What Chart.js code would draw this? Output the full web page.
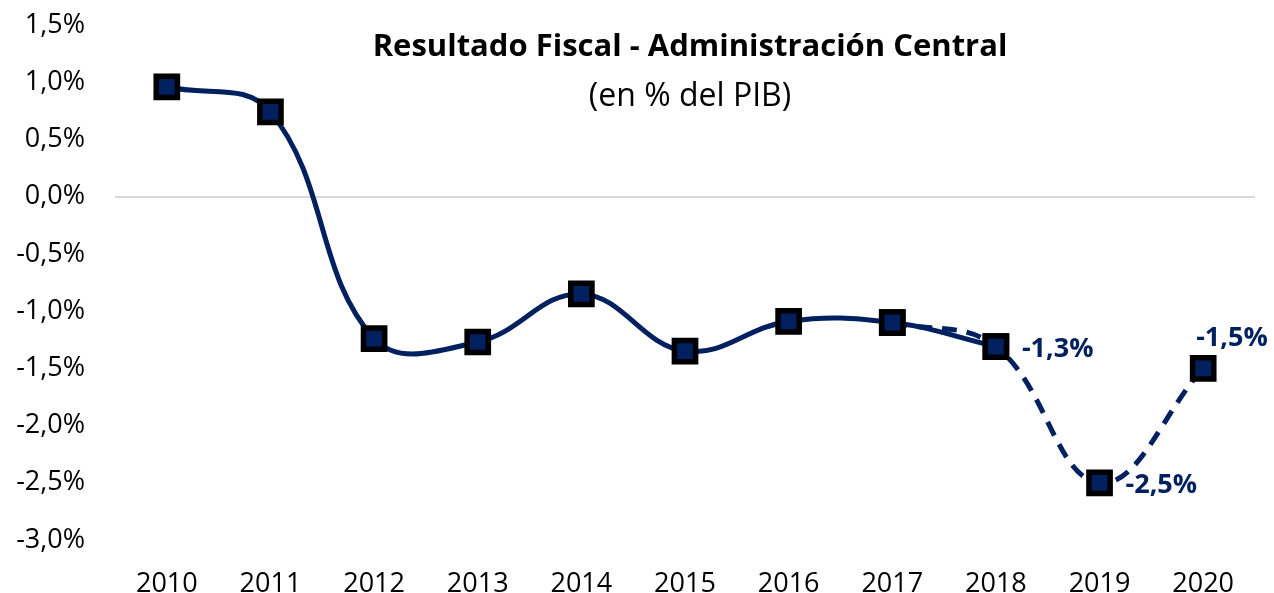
<!DOCTYPE html>
<html>
<head>
<meta charset="utf-8">
<script src="https://cdn.jsdelivr.net/npm/chart.js@4.4.1/dist/chart.umd.min.js"></script>
<style>
  html, body { margin: 0; padding: 0; background: #fff; }
  #wrap { width: 1274px; height: 593px; }
</style>
</head>
<body>
<div id="wrap"><canvas id="myChart"></canvas></div>
<script>
// datos (% del PIB)
const years = ['2010','2011','2012','2013','2014','2015','2016','2017','2018','2019','2020'];
const resultado = [0.96, 0.74, -1.24, -1.27, -0.85, -1.35, -1.09, -1.10, -1.31, null, null];
const proyeccion = [null, null, null, null, null, null, null, -1.10, -1.31, -2.50, -1.50];
const etiquetas = [null, null, null, null, null, null, null, null, '-1,3%', '-2,5%', '-1,5%'];
const yTicks = [1.5, 1.0, 0.5, 0.0, -0.5, -1.0, -1.5, -2.0, -2.5, -3.0];

const azul = '#002060';
const fuente = "'Open Sans', sans-serif";

const textos = {
  id: 'textos',
  afterDatasetsDraw(chart) {
    const c = chart.ctx;
    const area = chart.chartArea;
    const cx = (area.left + area.right) / 2 + 5;
    c.save();
    c.fillStyle = '#000';
    c.textAlign = 'center';
    c.textBaseline = 'middle';
    c.font = "bold 31px " + fuente;
    c.fillText('Resultado Fiscal - Administración Central', cx, 47);
    c.font = "32px " + fuente;
    c.fillText('(en % del PIB)', cx, 97);

    // etiquetas de datos
    const meta = chart.getDatasetMeta(0);
    c.font = "bold 27px " + fuente;
    c.fillStyle = azul;
    c.textAlign = 'left';
    etiquetas.forEach((t, i) => {
      if (!t) return;
      const p = meta.data[i];
      if (i === etiquetas.length - 1) {
        c.fillText(t, p.x - 7, p.y - 30);
      } else {
        c.fillText(t, p.x + 26, p.y + 3);
      }
    });
    c.restore();
  }
};

const ctx = document.getElementById('myChart');

const chart = new Chart(ctx, {
  type: 'line',
  data: {
    labels: years,
    datasets: [
      {
        label: 'Proyección',
        data: proyeccion,
        borderColor: azul,
        borderWidth: 5,
        borderDash: [15, 10],
        tension: 0.4,
        pointStyle: 'rect',
        pointRadius: 15,
        pointHoverRadius: 15,
        pointBackgroundColor: azul,
        pointBorderColor: '#000',
        pointBorderWidth: 5.5,
        order: 2
      },
      {
        label: 'Resultado',
        data: resultado,
        borderColor: azul,
        borderWidth: 5,
        tension: 0.4,
        pointStyle: 'rect',
        pointRadius: 15,
        pointHoverRadius: 15,
        pointBackgroundColor: azul,
        pointBorderColor: '#000',
        pointBorderWidth: 5.5,
        order: 1
      }
    ]
  },
  options: {
    responsive: true,
    maintainAspectRatio: false,
    animation: false,
    layout: { autoPadding: false, padding: { top: 25, right: 19, bottom: 0, left: 0 } },
    plugins: {
      legend: { display: false },
      tooltip: { enabled: false }
    },
    scales: {
      x: {
        offset: true,
        grid: { display: false },
        border: { display: false },
        ticks: { color: '#000', font: { family: fuente, size: 27 }, padding: 20 },
        afterFit(s) { s.height = 53; }
      },
      y: {
        min: -3.0,
        max: 1.5,
        border: { display: false },
        grid: {
          color: c => c.tick && c.tick.value === 0 ? '#d9d9d9' : 'transparent',
          lineWidth: 2,
          drawTicks: false
        },
        afterBuildTicks(s) { s.ticks = yTicks.map(v => ({ value: v })); },
        ticks: {
          color: '#000',
          font: { family: fuente, size: 27 },
          padding: 30,
          callback: v => v.toFixed(1).replace('.', ',') + '%'
        },
        afterFit(s) {
          s.width = 115;
          s.paddingTop = 0;
          s.paddingBottom = 0;
        }
      }
    }
  },
  plugins: [textos]
});
</script>
</body>
</html>
